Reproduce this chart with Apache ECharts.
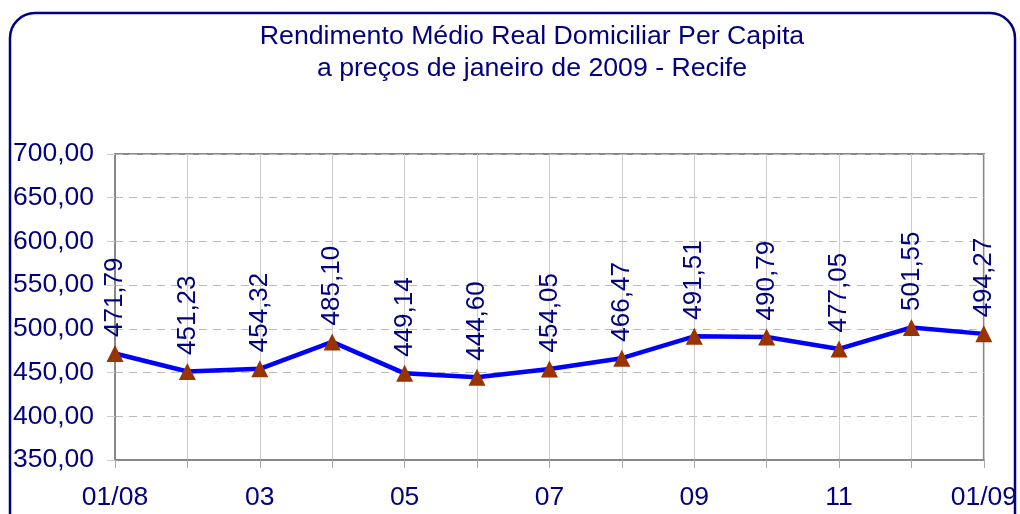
<!DOCTYPE html>
<html>
<head>
<meta charset="utf-8">
<script src="https://cdn.jsdelivr.net/npm/echarts@6/dist/echarts.min.js"></script>
<style>
	html, body { margin: 0; padding: 0; background: #fff; }
	#chart { width: 1020px; height: 514px; }
</style>
</head>
<body>
<div id="chart"></div>
<script>
var meses = ['01/08', '02', '03', '04', '05', '06', '07', '08', '09', '10', '11', '12', '01/09'];
var rendimento = [471.79, 451.23, 454.32, 485.10, 449.14, 444.60, 454.05, 466.47, 491.51, 490.79, 477.05, 501.55, 494.27];
var yMin = 350;
var yMax = 700;
var yStep = 50;

var navy = '#000080';
var fonte = 'Liberation Sans, Arial, sans-serif';

function virgula(v, casas) {
	return v.toFixed(casas).replace('.', ',');
}

var chart = echarts.init(document.getElementById('chart'));
chart.setOption({
	animation: false,
	backgroundColor: '#fff',
	title: {
		text: 'Rendimento Médio Real Domiciliar Per Capita\na preços de janeiro de 2009 - Recife',
		left: 527,
		textAlign: 'center',
		top: 16,
		textStyle: {
			color: navy,
			fontFamily: fonte,
			fontWeight: 'normal',
			fontSize: 26.7,
			lineHeight: 32
		}
	},
	graphic: [{
		type: 'rect',
		shape: { x: 10, y: 13, width: 1005, height: 540, r: 25 },
		style: { fill: 'none', stroke: navy, lineWidth: 2.5 },
		silent: true
	}],
	grid: {
		left: 115,
		right: 34,
		top: 154,
		bottom: 54,
		show: true,
		borderColor: '#888',
		borderWidth: 2
	},
	xAxis: {
		type: 'category',
		data: meses,
		boundaryGap: false,
		axisLine: { lineStyle: { color: '#888', width: 2 } },
		axisTick: { show: true, interval: 0, length: 8, lineStyle: { color: '#aaa' } },
		axisLabel: {
			interval: 1,
			color: navy,
			fontFamily: fonte,
			fontSize: 26.5,
			margin: 24
		},
		splitLine: { show: true, interval: 0, lineStyle: { color: '#ccc', width: 1 } }
	},
	yAxis: {
		type: 'value',
		min: yMin,
		max: yMax,
		interval: yStep,
		axisLine: { show: true, lineStyle: { color: '#888', width: 2 } },
		axisTick: { show: true, length: 8, lineStyle: { color: '#ccc' } },
		axisLabel: {
			color: navy,
			fontFamily: fonte,
			fontSize: 26.5,
			margin: 21,
			formatter: function(v) { return virgula(v, 2); }
		},
		splitLine: { show: true, lineStyle: { color: '#bbb', type: [8, 6], width: 1 } }
	},
	series: [{
		name: 'Rendimento',
		type: 'line',
		data: rendimento,
		symbol: 'triangle',
		symbolSize: 17,
		itemStyle: { color: '#993300' },
		lineStyle: { color: '#0000ff', width: 4.5 },
		z: 5,
		label: {
			show: true,
			position: 'top',
			distance: 8,
			rotate: 90,
			align: 'left',
			verticalAlign: 'middle',
			color: navy,
			fontFamily: fonte,
			fontSize: 26,
			formatter: function(p) { return virgula(p.value, 2); }
		}
	}]
});
</script>
</body>
</html>
